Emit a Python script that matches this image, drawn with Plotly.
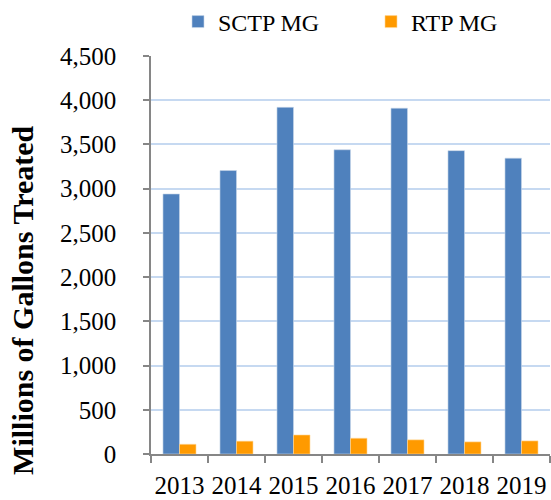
import plotly.graph_objects as go

years = ["2013", "2014", "2015", "2016", "2017", "2018", "2019"]
sctp_mg = [2940, 3205, 3920, 3440, 3910, 3430, 3345]
rtp_mg = [110, 145, 215, 178, 160, 137, 148]

font_family = "Liberation Serif, Times New Roman, serif"

fig = go.Figure()
fig.add_trace(go.Bar(x=years, y=sctp_mg, name="SCTP MG", legend="legend",
                     marker=dict(color="#4F81BD", line=dict(color="#C9D6EA", width=0.6))))
fig.add_trace(go.Bar(x=years, y=rtp_mg, name="RTP MG", legend="legend2",
                     marker=dict(color="#FF9A00", line=dict(color="#FFD699", width=0.6))))

leg_common = dict(orientation="h", xref="container", yref="container", yanchor="middle",
                  xanchor="left", font=dict(size=24), itemwidth=30, bgcolor="rgba(0,0,0,0)")

fig.update_layout(
    width=551, height=500,
    margin=dict(l=151, r=1, t=56, b=46, autoexpand=False),
    paper_bgcolor="white", plot_bgcolor="white",
    font=dict(family=font_family, size=25, color="black"),
    barmode="group", bargap=0.42, bargroupgap=0,
    showlegend=True,
    legend=dict(x=178 / 551, y=1 - 22 / 500, **leg_common),
    legend2=dict(x=371 / 551, y=1 - 22 / 500, **leg_common),
    annotations=[dict(text="<b>Millions of Gallons Treated</b>", textangle=-90,
                      xref="paper", yref="paper", x=-0.321, y=0.387,
                      xanchor="center", yanchor="middle", showarrow=False,
                      font=dict(size=30))],
)
fig.update_xaxes(
    automargin=False, tickangle=0,
    showline=True, linecolor="#868686", linewidth=1.5,
    ticks="outside", tickson="boundaries", ticklen=7, tickcolor="#868686", tickwidth=1.5,
    ticklabelstandoff=8,
    tickfont=dict(size=25), showgrid=False,
)
fig.update_yaxes(
    automargin=False,
    range=[0, 4500], dtick=500, tickformat=",",
    showline=True, linecolor="#868686", linewidth=1.5,
    ticks="outside", ticklen=6, tickcolor="#868686", tickwidth=1.5,
    ticklabelstandoff=22,
    showgrid=True, gridcolor="#C6D9F1", gridwidth=1.5,
    tickfont=dict(size=25),
)

fig.write_html("out.html", config={"displayModeBar": False},
               post_script="document.body.style.margin='0';")
